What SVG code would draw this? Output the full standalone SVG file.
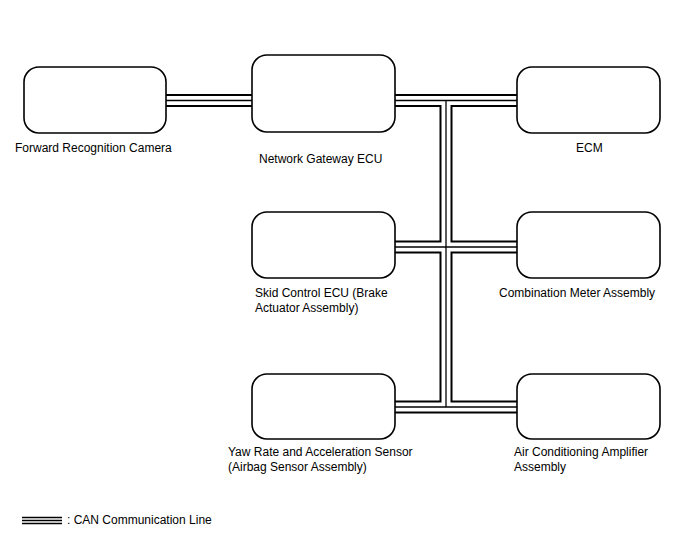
<svg xmlns="http://www.w3.org/2000/svg" width="688" height="560" viewBox="0 0 688 560">
<style>
.box{fill:#fff;stroke:#000;stroke-width:1.6}
.lbl{font-family:"Liberation Sans",Arial,sans-serif;font-size:12px;fill:#000}
.c1{fill:none;stroke:#000;stroke-width:13}
.c2{fill:none;stroke:#fff;stroke-width:9}
.c3{fill:none;stroke:#000;stroke-width:1.3}
</style>
<defs>
<g id="wires">
<path d="M165 100.5H253"/>
<path d="M395 100.5H517"/>
<path d="M446 100.5V407"/>
<path d="M395 247H517"/>
<path d="M395 407H517"/>
</g>
</defs>
<rect width="688" height="560" fill="#fff"/>
<g id="connectors">
<use href="#wires" class="c1"/>
<use href="#wires" class="c2"/>
<use href="#wires" class="c3"/>
</g>
<g id="forward-camera">
<rect class="box" x="24" y="67" width="142" height="66" rx="15"/>
<text class="lbl" x="15" y="152">Forward Recognition Camera</text>
</g>
<g id="gateway">
<rect class="box" x="252" y="55" width="143" height="77" rx="15"/>
<text class="lbl" x="259" y="163">Network Gateway ECU</text>
</g>
<g id="ecm">
<rect class="box" x="517" y="67" width="143" height="66" rx="15"/>
<text class="lbl" x="576" y="152">ECM</text>
</g>
<g id="skid">
<rect class="box" x="252" y="212" width="143" height="66" rx="15"/>
<text class="lbl" x="255" y="297">Skid Control ECU (Brake</text>
<text class="lbl" x="255" y="312">Actuator Assembly)</text>
</g>
<g id="combination-meter">
<rect class="box" x="517" y="212" width="143" height="66" rx="15"/>
<text class="lbl" x="499" y="297">Combination Meter Assembly</text>
</g>
<g id="yaw-rate">
<rect class="box" x="252" y="374" width="143" height="65" rx="15"/>
<text class="lbl" x="228" y="456">Yaw Rate and Acceleration Sensor</text>
<text class="lbl" x="228" y="471">(Airbag Sensor Assembly)</text>
</g>
<g id="air-conditioning">
<rect class="box" x="517" y="374" width="143" height="65" rx="15"/>
<text class="lbl" x="514" y="456">Air Conditioning Amplifier</text>
<text class="lbl" x="514" y="471">Assembly</text>
</g>
<g id="legend">
<path d="M22 517.5H62M22 520.5H62M22 523.5H62" stroke="#000" stroke-width="1.5" fill="none"/>
<text class="lbl" x="67" y="524">: CAN Communication Line</text>
</g>
</svg>
